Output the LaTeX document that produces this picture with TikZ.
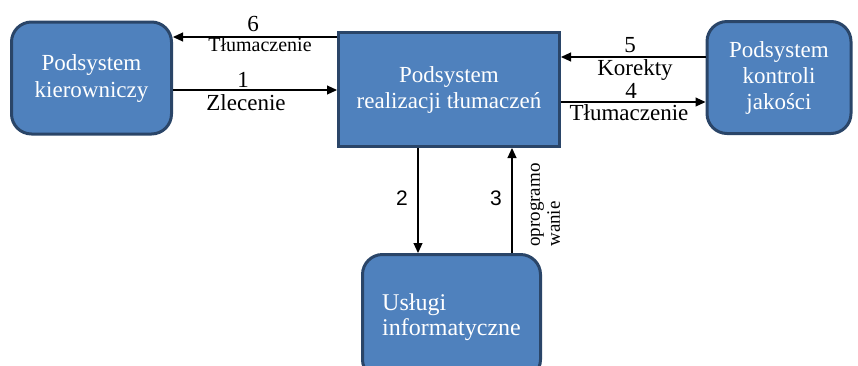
\documentclass[tikz,border=0pt]{standalone}
\usepackage{fontspec}
\setmainfont{Liberation Serif}
\newfontfamily\sansf{Liberation Sans}
\usetikzlibrary{arrows.meta}
\definecolor{boxfill}{HTML}{4F81BD}
\definecolor{boxedge}{HTML}{2A4568}
\begin{document}
\begin{tikzpicture}[x=1pt,y=-1pt,
  box/.style={draw=boxedge, line width=3pt, fill=boxfill, text=white,
    font=\fontsize{23}{26}\selectfont, align=center, inner sep=0pt},
  rbox/.style={box, rounded corners=20pt},
  arr/.style={line width=1.1pt, -{Triangle[length=10pt,width=9pt]}},
  lbl/.style={font=\fontsize{23}{25}\selectfont, inner sep=0pt, anchor=base},
  slbl/.style={font=\sansf\fontsize{21}{23}\selectfont, inner sep=0pt}]
\clip (0,0) rectangle (858,365);
\node[rbox, minimum width=160pt, minimum height=112pt, font=\fontsize{23}{27}\selectfont] (kier) at (91.5,78) {Podsystem\\kierowniczy};
\node[box, minimum width=221pt, minimum height=114pt] (real) at (449,89.5) {Podsystem\\realizacji tłumaczeń};
\node[rbox, minimum width=144pt, minimum height=112pt] (kontr) at (779,77.5) {Podsystem\\kontroli\\jakości};
\node[rbox, minimum width=178pt, minimum height=125pt, align=left, font=\fontsize{24}{25}\selectfont] (usl) at (451.5,317) {Usługi\\informatyczne};
\coordinate (y6) at (0,37);
\coordinate (y1) at (0,90);
\coordinate (y5) at (0,57);
\coordinate (y4) at (0,102);
\coordinate (x2) at (418,0);
\coordinate (x3) at (512,0);
\draw[arr] (real.west |- y6) -- (kier.east |- y6);
\draw[arr] (kier.east |- y1) -- (real.west |- y1);
\draw[arr] (kontr.west |- y5) -- (real.east |- y5);
\draw[arr] (real.east |- y4) -- (kontr.west |- y4);
\draw[arr] (real.south -| x2) -- (usl.north -| x2);
\draw[arr] (usl.north -| x3) -- (real.south -| x3);
\node[lbl] (l6) at (253,31) {6};
\node[lbl, font=\fontsize{20}{22}\selectfont] (t6) at (260,51) {Tłumaczenie};
\node[lbl] (l1) at (243,87) {1};
\node[lbl] (t1) at (246,110) {Zlecenie};
\node[lbl] (l5) at (630,52) {5};
\node[lbl] (t5) at (635,75) {Korekty};
\node[lbl] (l4) at (631,98) {4};
\node[lbl] (t4) at (629,120) {Tłumaczenie};
\node[slbl] (l2) at (402,198) {2};
\node[slbl] (l3) at (496,198) {3};
\node[rotate=90, align=left, inner sep=0pt, font=\fontsize{19}{20}\selectfont] (t3) at (545,205) {oprogramo\\wanie};
\end{tikzpicture}
\end{document}
